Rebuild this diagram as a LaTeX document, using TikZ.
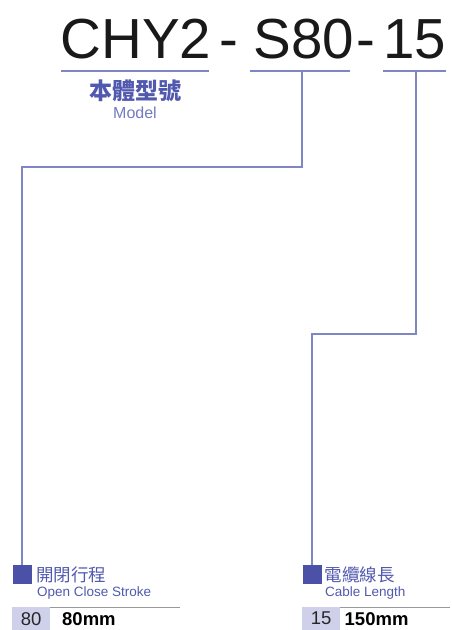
\documentclass[tikz,border=0pt]{standalone}
\usepackage{fontspec}
\setmainfont{Liberation Sans}
\newfontfamily\cjk{Noto Sans CJK TC}
\definecolor{lineblue}{HTML}{7F86C6}
\definecolor{markblue}{HTML}{4B51A6}
\definecolor{textblue}{HTML}{5159AF}
\definecolor{cellfill}{HTML}{CFD1EB}
\begin{document}
\begin{tikzpicture}[x=1pt,y=-1pt,
  code/.style={anchor=base west,inner sep=0pt,text=black!90,
    font=\fontsize{56.5}{60}\selectfont},
  uline/.style={lineblue,line width=1.3pt},
  link/.style={lineblue,line width=1.3pt},
  sq/.style={fill=markblue,minimum size=19pt,inner sep=0pt},
  zh/.style={anchor=west,inner sep=0pt,text=textblue,font=\cjk\fontsize{17.5}{19}\selectfont},
  en/.style={anchor=west,inner sep=0pt,text=textblue,font=\fontsize{13.5}{15}\selectfont},
  cell/.style={anchor=north west,fill=cellfill,minimum width=38pt,minimum height=23pt,
    inner sep=0pt,text=black!85,font=\fontsize{18.5}{20}\selectfont},
  val/.style={anchor=west,inner sep=0pt,text=black,font=\bfseries\fontsize{18.5}{20}\selectfont},
  rule/.style={black!40,line width=0.8pt}]
\useasboundingbox (0,0) rectangle (452,630);
% model code
\node[code] (cA) at (60.5,58) {CHY2};
\node[code] (d1) at (219.5,58) {-};
\node[code] (cB) at (253.5,58) {S80};
\node[code] (d2) at (356,58) {-};
\node[code] (cC) at (383,58) {15};
% underlines
\coordinate (u1a) at (61,71);  \coordinate (u1b) at (209,71);
\coordinate (u2a) at (250,71); \coordinate (u2b) at (350,71);
\coordinate (u3a) at (383,71); \coordinate (u3b) at (446,71);
\draw[uline] (u1a) -- (u1b);
\draw[uline] (u2a) -- (u2b);
\draw[uline] (u3a) -- (u3b);
\node[inner sep=0pt,text=textblue,font=\cjk\bfseries\fontsize{23}{25}\selectfont]
  (model) at (135,91) {本體型號};
\node[inner sep=0pt,text=textblue!80,font=\fontsize{16}{18}\selectfont]
  (modelen) at (135,113) {Model};
% legend marks
\node[sq] (sq1) at (22,574.5) {};
\node[sq] (sq2) at (312,574.5) {};
\node[zh] (t1) at (36,575) {開閉行程};
\node[en] (e1) at (37,593) {Open Close Stroke};
\node[zh] (t2) at (324.5,575) {電纜線長};
\node[en] (e2) at (325,593) {Cable Length};
% connectors
\coordinate (u2) at (302,71);
\coordinate (k1) at (302,167);
\coordinate (u3) at (416,71);
\coordinate (k2) at (416,334);
\draw[link] (u2) -- (k1) -| (sq1.north);
\draw[link] (u3) -- (k2) -| (sq2.north);
% value tables
\draw[rule] (12,607) -- (180,607);
\draw[rule] (302,607) -- (450,607);
\node[cell] (v1) at (12,607) {80};
\node[val] (w1) at (62,619.5) {80mm};
\node[cell] (v2) at (302,607) {15};
\node[val] (w2) at (344.5,619.5) {150mm};
\end{tikzpicture}
\end{document}
